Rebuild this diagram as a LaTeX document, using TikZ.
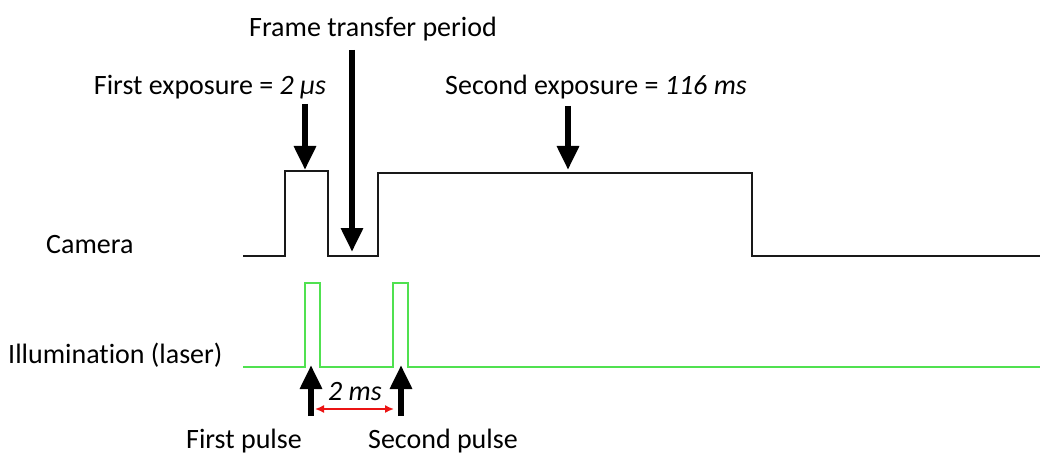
\documentclass[tikz,border=0pt]{standalone}
\usepackage{fontspec}
\setmainfont[Ligatures=NoCommon]{Carlito}
\usetikzlibrary{arrows.meta}
\definecolor{laser}{RGB}{80,225,80}
\definecolor{pulsered}{RGB}{235,20,20}
\tikzset{
  lbl/.style={inner sep=0pt, anchor=base, font=\fontsize{28}{32}\selectfont},
  bigarrow/.style={line width=6pt, -{Triangle[width=21pt,length=24pt]}},
  camline/.style={line width=2.8pt, black!90},
  laserline/.style={line width=2pt, laser},
  gap/.style={pulsered, line width=1.6pt, {Latex[length=9pt,width=8pt]}-{Latex[length=9pt,width=8pt]}}
}
\begin{document}
\begin{tikzpicture}[x=1pt,y=-1pt]
\useasboundingbox (0,0) rectangle (1050,468);
% labels
\node[lbl] (ftp) at (373,37) {Frame transfer period};
\node[lbl] (fe) at (210,95) {First exposure = \textit{2 µs}};
\node[lbl] (se) at (596,95) {Second exposure = \textit{116 ms}};
\node[lbl, anchor=base west] (cam) at (46,253) {Camera};
\node[lbl, anchor=base west] (ill) at (8,363) {Illumination (laser)};
\node[lbl] (fp) at (244,448) {First pulse};
\node[lbl] (sp) at (443,448) {Second pulse};
\node[lbl, font=\fontsize{28}{32}\selectfont\itshape] (gapl) at (355,400) {2 ms};
% camera signal
\draw[camline] (243,256) -- (285,256) -- (285,171) -- (328,171) -- (328,256) -- (378,256) -- (378,173) -- (752,173) -- (752,256) -- (1040,256);
% laser signal
\draw[laserline] (243,367) -- (305,367) -- (305,283) -- (320,283) -- (320,367) -- (393,367) -- (393,283) -- (408,283) -- (408,367) -- (1040,367);
% arrow coordinates
\coordinate (a1s) at (305,104);
\coordinate (a1e) at (305,170);
\coordinate (a2s) at (352,50);
\coordinate (a2e) at (352,252);
\coordinate (a3s) at (568,106);
\coordinate (a3e) at (568,170);
\coordinate (p1s) at (311,416);
\coordinate (p1e) at (311,365);
\coordinate (p2s) at (401,416);
\coordinate (p2e) at (401,365);
\coordinate (g1) at (315,409);
\coordinate (g2) at (394,409);
\draw[bigarrow] (a1s) -- (a1e);
\draw[bigarrow] (a2s) -- (a2e);
\draw[bigarrow] (a3s) -- (a3e);
\draw[bigarrow] (p1s) -- (p1e);
\draw[bigarrow] (p2s) -- (p2e);
\draw[gap] (g1) -- (g2);
\end{tikzpicture}
\end{document}
